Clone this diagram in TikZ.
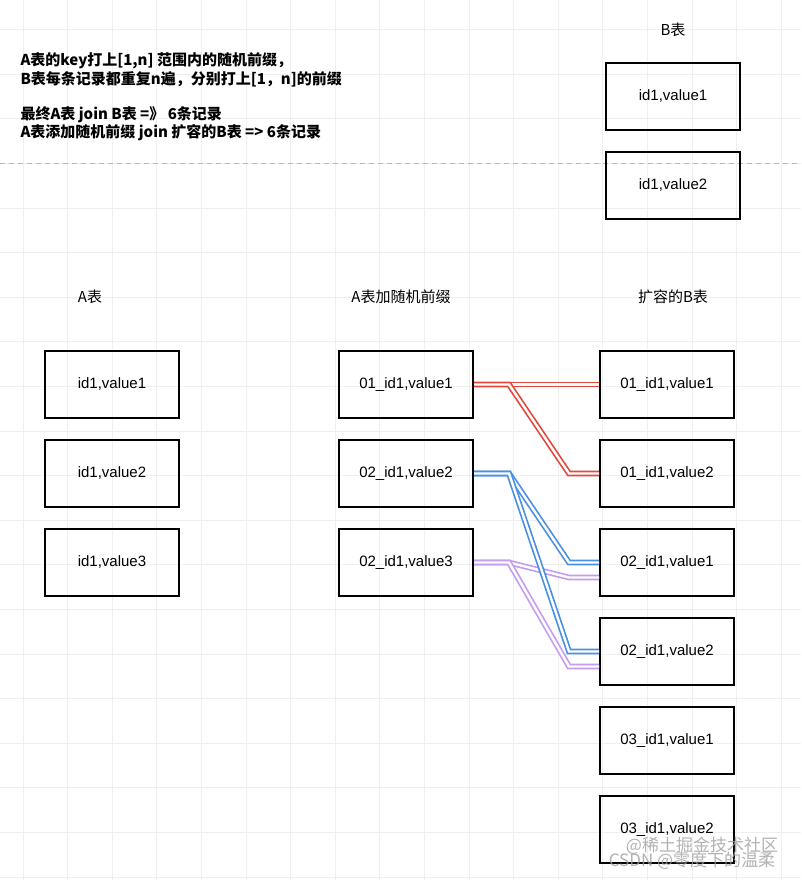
\documentclass[tikz,border=0pt]{standalone}
\usepackage{fontspec}
\setmainfont{Liberation Sans}
\newfontfamily\cjk{Noto Sans CJK SC}
\definecolor{joinred}{RGB}{226,72,60}
\definecolor{joinblue}{RGB}{74,144,226}
\definecolor{joinpurple}{RGB}{196,156,240}
\definecolor{gridgray}{RGB}{239,239,239}

\begin{document}
\begin{tikzpicture}[x=1pt, y=-1pt,
    tbl/.style={draw, line width=2pt, minimum width=134pt, minimum height=67pt,
      font=\fontsize{15}{18}\selectfont},
    title/.style={font=\cjk\fontsize{15}{18}\selectfont},
    note/.style={anchor=west, font=\cjk\bfseries\fontsize{15}{18}\selectfont},
    link/.style={double=white, line width=1.7pt, double distance=2.4pt},
    wmark/.style={text=gray!75, opacity=0.8, font=\cjk\fontsize{17}{20}\selectfont}]
          \fill[white] (0,0) rectangle (801,880);
          \useasboundingbox (0,0) rectangle (801,880);
          \foreach \i in {0,...,17}
            \draw[gridgray, line width=0.8pt] (23+44.6*\i,0) -- (23+44.6*\i,880);
          \foreach \j in {0,...,19}
            \draw[gridgray, line width=0.8pt] (0,29.5+44.6*\j) -- (801,29.5+44.6*\j);
          \draw[gray!55, line width=0.8pt, dash pattern=on 5pt off 4pt] (0,163) -- (801,163);

          \node[note] (note1) at (17,61) {A表的key打上[1,n] 范围内的随机前缀，};
          \node[note] (note2) at (17,79) {B表每条记录都重复n遍，分别打上[1，n]的前缀};
          \node[note] (note3) at (17,115) {最终A表 join B表 =》 6条记录};
          \node[note] (note4) at (17,133) {A表添加随机前缀 join 扩容的B表 => 6条记录};

          \node[title] (btitle) at (673,30) {B表};
          \node[tbl] (b1) at (673,96.5) {id1,value1};
          \node[tbl] (b2) at (673,185.5) {id1,value2};

          \node[title] (atitle) at (90,297) {A表};
          \node[title] (mtitle) at (401,297) {A表加随机前缀};
          \node[title] (rtitle) at (673,297) {扩容的B表};

          \node[tbl] (a1) at (112,384.5) {id1,value1};
          \node[tbl] (a2) at (112,473.5) {id1,value2};
          \node[tbl] (a3) at (112,562.5) {id1,value3};

          \node[tbl] (m1) at (406,384.5) {01\_id1,value1};
          \node[tbl] (m2) at (406,473.5) {02\_id1,value2};
          \node[tbl] (m3) at (406,562.5) {02\_id1,value3};

          \node[tbl] (r1) at (667,384.5) {01\_id1,value1};
          \node[tbl] (r2) at (667,473.5) {01\_id1,value2};
          \node[tbl] (r3) at (667,562.5) {02\_id1,value1};
          \node[tbl] (r4) at (667,651.5) {02\_id1,value2};
          \node[tbl] (r5) at (667,740.5) {03\_id1,value1};
          \node[tbl] (r6) at (667,829.5) {03\_id1,value2};

          \draw[link, draw=joinred] (m1.east) -- (r1.west);
          \draw[link, draw=joinred] (m1.east) -- ++(35,0) -- ++(60,89) -- (r2.west);
          \draw[link, draw=joinpurple] (m3.east) -- ++(35,0) -- ++(60,15) -- ([yshift=-15pt]r3.west);
          \draw[link, draw=joinpurple] (m3.east) -- ++(35,0) -- ++(60,104) -- ([yshift=-15pt]r4.west);
          \draw[link, draw=joinblue] (m2.east) -- ++(35,0) -- ++(60,89) -- (r3.west);
          \draw[link, draw=joinblue] (m2.east) -- ++(35,0) -- ++(60,178) -- (r4.west);

          \node[wmark] (mark1) at (702,846) {@稀土掘金技术社区};
          \node[wmark] (mark2) at (692,861) {CSDN @零度下的温柔};
    \end{tikzpicture}
\end{document}
